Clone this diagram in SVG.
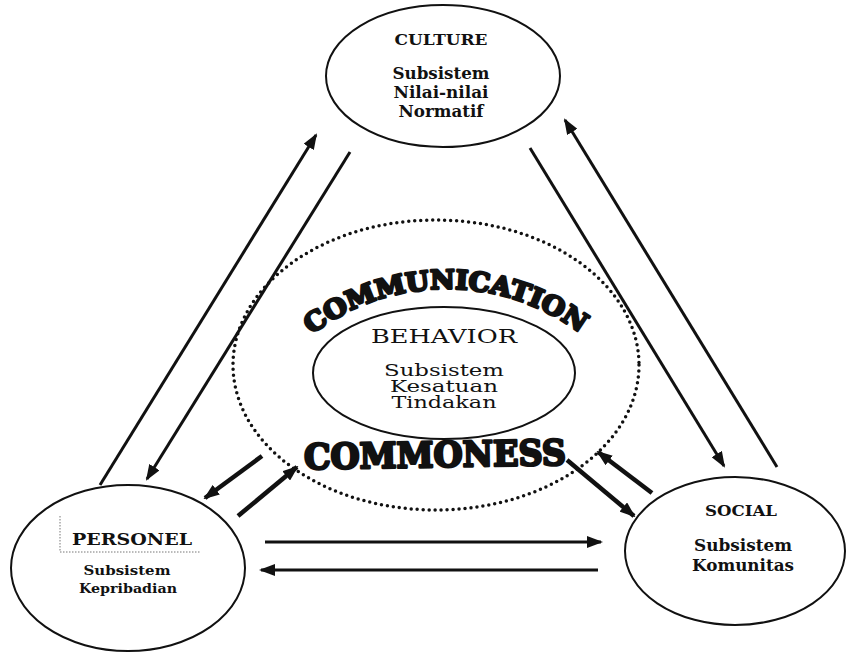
<svg xmlns="http://www.w3.org/2000/svg" width="848" height="654" viewBox="0 0 848 654">
<defs>
<marker id="ah" markerUnits="userSpaceOnUse" markerWidth="16" markerHeight="12" refX="14" refY="6" orient="auto"><path d="M0,0 L16,6 L0,12 z" fill="#111"/></marker>
<path id="arc" d="M 304 341 A 222 222 0 0 1 590 341"/>
</defs>
<style>
.ell{fill:none;stroke:#111;stroke-width:2}
.t{font-family:"DejaVu Serif","Liberation Serif",serif;font-weight:bold;fill:#111;text-anchor:middle}
.b{font-family:"DejaVu Serif","Liberation Serif",serif;fill:#111;text-anchor:middle}
.big{font-family:"DejaVu Serif","Liberation Serif",serif;font-weight:bold;fill:#111;stroke:#111;stroke-width:2.6;stroke-linejoin:round}
.c{fill:none;stroke:#111;stroke-width:3;marker-end:url(#ah)}
.cs{fill:none;stroke:#111;stroke-width:4.5;marker-end:url(#ah)}
</style>
<rect width="848" height="654" fill="#fff"/>
<g id="communication">
<ellipse cx="436" cy="365" rx="203" ry="145" fill="none" stroke="#111" stroke-width="3.5" stroke-dasharray="0 6" stroke-linecap="round"/>
<text class="big" font-size="26"><textPath href="#arc" startOffset="10" textLength="288" lengthAdjust="spacingAndGlyphs">COMMUNICATION</textPath></text>
<text class="big" x="304" y="467" font-size="35" textLength="262" lengthAdjust="spacingAndGlyphs" transform="rotate(-1 436 460)">COMMONESS</text>
</g>
<g id="behavior">
<ellipse class="ell" cx="444" cy="373" rx="131" ry="66"/>
<text class="b" x="444" y="343" font-size="19" textLength="146" lengthAdjust="spacingAndGlyphs">BEHAVIOR</text>
<text class="b" x="444" y="376" font-size="17" textLength="120" lengthAdjust="spacingAndGlyphs">Subsistem</text>
<text class="b" x="444" y="392" font-size="17" textLength="108" lengthAdjust="spacingAndGlyphs">Kesatuan</text>
<text class="b" x="444" y="408" font-size="17" textLength="105" lengthAdjust="spacingAndGlyphs">Tindakan</text>
</g>
<g id="culture">
<ellipse class="ell" cx="443" cy="76" rx="117" ry="71"/>
<text class="t" x="441" y="45" font-size="14" textLength="93" lengthAdjust="spacingAndGlyphs">CULTURE</text>
<text class="t" x="441" y="79" font-size="16" textLength="97" lengthAdjust="spacingAndGlyphs">Subsistem</text>
<text class="t" x="441" y="98" font-size="16" textLength="95" lengthAdjust="spacingAndGlyphs">Nilai-nilai</text>
<text class="t" x="441" y="117" font-size="16" textLength="85" lengthAdjust="spacingAndGlyphs">Normatif</text>
</g>
<g id="personel">
<ellipse class="ell" cx="128" cy="568" rx="117" ry="83"/>
<path d="M60 516 V552 H200" fill="none" stroke="#777" stroke-width="1" stroke-dasharray="1.5 1.5"/>
<text class="t" x="132" y="545" font-size="17" textLength="120" lengthAdjust="spacingAndGlyphs">PERSONEL</text>
<text class="t" x="127" y="575" font-size="13" textLength="87" lengthAdjust="spacingAndGlyphs">Subsistem</text>
<text class="t" x="128" y="593" font-size="13" textLength="98" lengthAdjust="spacingAndGlyphs">Kepribadian</text>
</g>
<g id="social">
<ellipse class="ell" cx="735" cy="551" rx="110" ry="74"/>
<text class="t" x="741" y="516" font-size="14" textLength="72" lengthAdjust="spacingAndGlyphs">SOCIAL</text>
<text class="t" x="743" y="551" font-size="16" textLength="98" lengthAdjust="spacingAndGlyphs">Subsistem</text>
<text class="t" x="743" y="571" font-size="16" textLength="102" lengthAdjust="spacingAndGlyphs">Komunitas</text>
</g>
<g id="connectors">
<line class="c" x1="100" y1="485" x2="316" y2="135"/>
<line class="c" x1="350" y1="152" x2="147" y2="479"/>
<line class="c" x1="777" y1="467" x2="565" y2="120"/>
<line class="c" x1="530" y1="148" x2="724" y2="466"/>
<line class="cs" x1="262" y1="456" x2="205" y2="498"/>
<line class="cs" x1="238" y1="516" x2="297" y2="467"/>
<line class="cs" x1="567" y1="460" x2="634" y2="516"/>
<line class="cs" x1="652" y1="493" x2="598" y2="452"/>
<line class="c" x1="265" y1="542" x2="601" y2="542"/>
<line class="c" x1="598" y1="570" x2="261" y2="570"/>
</g>
</svg>
